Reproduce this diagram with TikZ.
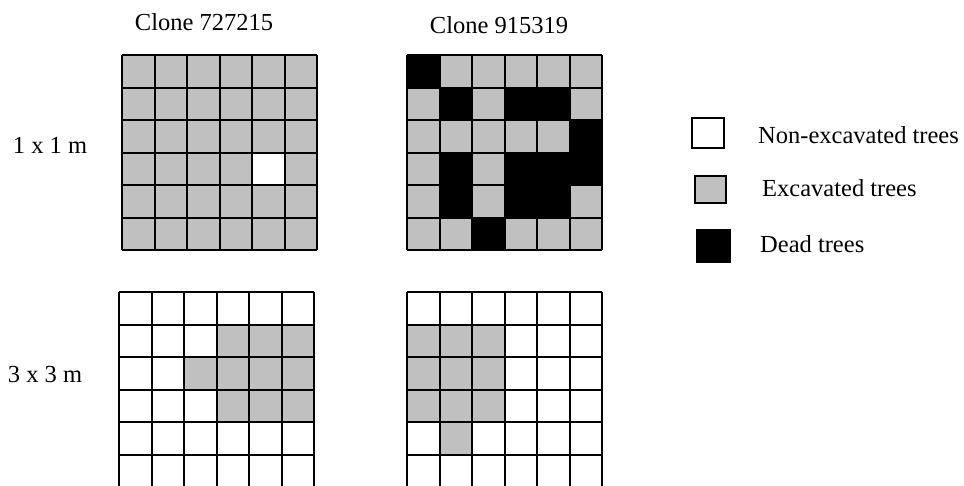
\documentclass[tikz,border=0pt]{standalone}
\usepackage{fontspec}
\setmainfont{Liberation Serif}
\definecolor{cellgray}{HTML}{C0C0C0}
\tikzset{
  lbl/.style={inner sep=0pt, font=\fontsize{24.5}{29}\selectfont},
  gridline/.style={draw=black, line width=2pt},
  legbox/.style={draw=black, line width=2pt},
}
\newcommand{\sixgrid}{%
  \foreach \k in {0,...,6} {
    \draw[gridline] (\k*32.5,0) -- (\k*32.5,195);
    \draw[gridline] (0,\k*32.5) -- (195,\k*32.5);
  }%
}
\begin{document}
\begin{tikzpicture}[x=1pt,y=-1pt]
\useasboundingbox (0,0) rectangle (964,485);
\clip (0,0) rectangle (964,485);
% ---------- Grid 1 (Clone 727215, 1 x 1 m)
\begin{scope}[shift={(122,55)}]
  \fill[cellgray] (0,0) rectangle (195,195);
  \fill[white] (4*32.5,3*32.5) rectangle ++(32.5,32.5);
  \sixgrid
\end{scope}
% ---------- Grid 2 (Clone 915319, 1 x 1 m)
\begin{scope}[shift={(407,55)}]
  \fill[cellgray] (0,0) rectangle (195,195);
  \foreach \c/\r in {0/0,1/1,3/1,4/1,5/2,1/3,3/3,4/3,5/3,1/4,3/4,4/4,2/5}
    \fill[black] (\c*32.5,\r*32.5) rectangle ++(32.5,32.5);
  \sixgrid
\end{scope}
% ---------- Grid 3 (Clone 727215, 3 x 3 m)
\begin{scope}[shift={(119,292)}]
  \foreach \c/\r in {3/1,4/1,5/1,2/2,3/2,4/2,5/2,3/3,4/3,5/3}
    \fill[cellgray] (\c*32.5,\r*32.5) rectangle ++(32.5,32.5);
  \sixgrid
\end{scope}
% ---------- Grid 4 (Clone 915319, 3 x 3 m)
\begin{scope}[shift={(407,292)}]
  \foreach \c/\r in {0/1,1/1,2/1,0/2,1/2,2/2,0/3,1/3,2/3,1/4}
    \fill[cellgray] (\c*32.5,\r*32.5) rectangle ++(32.5,32.5);
  \sixgrid
\end{scope}
% ---------- Titles and row labels
\node[lbl] (t1) at (204,22) {Clone 727215};
\node[lbl] (t2) at (499,25) {Clone 915319};
\node[lbl] (r1) at (50,145) {1 x 1 m};
\node[lbl] (r3) at (45,375) {3 x 3 m};
% ---------- Legend
\draw[legbox, fill=white] (692,118) rectangle (724,148);
\draw[legbox, fill=cellgray] (695,176) rectangle (726,203);
\fill[black] (696,229) rectangle (731,263);
\node[lbl, anchor=west] (l1) at (758,135) {Non-excavated trees};
\node[lbl, anchor=west] (l2) at (762,188) {Excavated trees};
\node[lbl, anchor=west] (l3) at (760,244) {Dead trees};
\end{tikzpicture}
\end{document}
